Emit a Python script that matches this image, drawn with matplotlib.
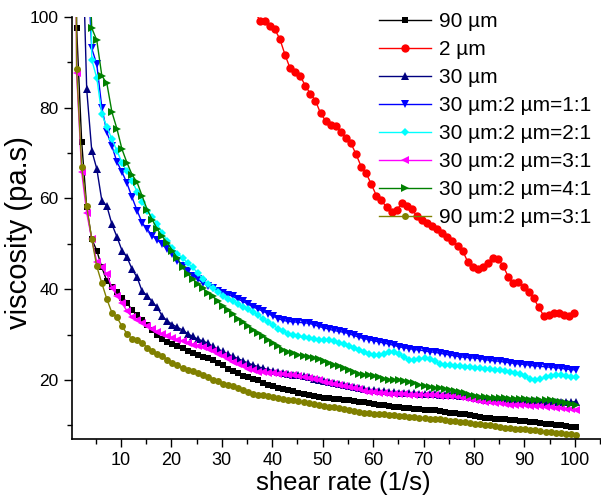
import numpy as np
import matplotlib
matplotlib.use('Agg')
import matplotlib.pyplot as plt

plt.rcParams['font.family'] = ['Liberation Sans', 'DejaVu Sans']

# shear rate grid (1/s), one reading per unit; first point sits just left of the axis
shear_rate = np.linspace(0.2, 100.2, 101)

visc_90um = [300, 97.5, 72.5, 58, 51, 48.5, 44.8, 41.8, 40.5, 39.3,
             38.0, 37.0, 35.4, 34.2, 33.2, 32.2, 30.9, 30.0, 29.1, 28.4,
             27.9, 27.4, 27.0, 26.4, 25.9, 25.5, 25.1, 24.8, 24.3, 23.8,
             23.2, 22.4, 21.9, 21.5, 20.9, 20.6, 20.3, 20.0, 19.4, 18.9,
             18.6, 18.3, 18.0, 17.8, 17.5, 17.2, 17.0, 16.7, 16.5, 16.3,
             16.1, 16.0, 15.9, 15.8, 15.7, 15.6, 15.4, 15.2, 15.1, 14.9,
             14.7, 14.5, 14.4, 14.2, 14.1, 14.0, 13.9, 13.8, 13.6, 13.5,
             13.4, 13.3, 13.3, 13.2, 13.0, 12.8, 12.7, 12.6, 12.4, 12.2,
             12.0, 11.9, 11.7, 11.6, 11.5, 11.4, 11.3, 11.2, 11.1, 11.0,
             10.9, 10.8, 10.7, 10.5, 10.4, 10.3, 10.1, 10.0, 9.9, 9.7,
             9.6]

# 2 um only shows up once it drops below 100
red_rate = np.linspace(36.5, 99.9, 64)
visc_2um = [101.5, 99.1, 99.0, 98.0, 97.2, 95.0, 91.6, 88.6, 87.8, 86.9,
            84.8, 83.0, 81.5, 78.7, 77.1, 76.1, 75.9, 74.5, 73.2, 72.1,
            69.7, 67.0, 65.5, 63.1, 60.6, 59.6, 58.0, 57.0, 57.4, 58.9,
            58.3, 57.7, 56.0, 55.2, 54.6, 54.0, 53.2, 52.4, 51.5, 50.5,
            49.6, 48.5, 46.0, 44.9, 44.4, 44.9, 45.7, 46.8, 46.6, 45.1,
            42.7, 41.3, 41.6, 40.5, 39.4, 38.0, 36.0, 34.1, 34.4, 34.8,
            34.7, 34.4, 34.1, 34.7]

visc_30um = [300, 200, 124, 84, 70.5, 66.5, 59.5, 58.3, 54.3, 51.5,
             48.5, 47.0, 44.4, 42.6, 39.5, 38.6, 37.2, 36.0, 34.0, 33.0,
             32.2, 31.6, 31.0, 30.2, 29.6, 29.0, 28.6, 28.1, 27.4, 26.8,
             26.3, 25.7, 25.2, 24.7, 24.2, 23.7, 23.3, 22.9, 22.6, 22.3,
             22.0, 21.8, 21.6, 21.4, 21.2, 21.0, 20.8, 20.6, 20.3, 20.0,
             19.8, 19.5, 19.3, 19.1, 18.9, 18.7, 18.5, 18.3, 18.1, 17.9,
             17.8, 17.6, 17.5, 17.4, 17.3, 17.2, 17.2, 17.1, 17.1, 17.0,
             17.0, 16.9, 16.9, 16.8, 16.7, 16.7, 16.6, 16.5, 16.4, 16.2,
             16.0, 15.8, 15.7, 15.6, 15.6, 15.5, 15.5, 15.4, 15.4, 15.4,
             15.3, 15.3, 15.3, 15.2, 15.2, 15.2, 15.2, 15.2, 15.2, 15.2,
             15.2]

visc_1to1 = [400, 300, 200, 115, 93, 89.5, 80, 74.5, 71.5, 68,
             65.8, 63.3, 60.2, 57.3, 54.6, 53.2, 51.8, 50.8, 49.9, 48.8,
             47.7, 46.3, 45.1, 44.0, 43.0, 42.2, 41.4, 40.8, 40.2, 39.7,
             39.2, 38.8, 38.4, 37.8, 37.3, 36.7, 36.1, 35.6, 35.1, 34.6,
             34.0, 33.5, 33.1, 32.9, 32.8, 32.7, 32.6, 32.5, 32.2, 31.8,
             31.5, 31.2, 30.9, 30.7, 30.5, 30.2, 29.8, 29.4, 29.1, 28.9,
             28.6, 28.4, 28.1, 27.9, 27.6, 27.3, 27.1, 26.9, 26.7, 26.6,
             26.4, 26.2, 26.1, 25.9, 25.7, 25.5, 25.3, 25.1, 25.0, 24.9,
             24.8, 24.7, 24.5, 24.3, 24.2, 24.1, 23.9, 23.8, 23.6, 23.5,
             23.4, 23.2, 23.1, 23.0, 22.9, 22.8, 22.7, 22.6, 22.4, 22.3,
             22.2]

visc_2to1 = [600, 400, 300, 185, 90.5, 86.5, 78.5, 75.8, 73, 70.5,
             67.8, 66, 63.8, 61.5, 59.3, 57.3, 55.8, 54.3, 52.3, 50.6,
             49.0, 47.8, 46.9, 45.8, 44.8, 43.6, 42.3, 41.1, 40.2, 39.3,
             38.6, 37.9, 37.3, 36.7, 36.1, 35.6, 35.0, 34.3, 33.4, 32.7,
             32.0, 31.3, 30.7, 30.2, 29.9, 29.6, 29.4, 29.2, 29.1, 28.9,
             28.8, 28.7, 28.5, 28.2, 27.9, 27.5, 27.0, 26.5, 26.1, 25.8,
             25.5, 25.5, 25.8, 26.1, 26.2, 25.8, 25.0, 24.5, 24.4, 24.6,
             24.8, 24.6, 24.1, 23.6, 23.3, 23.2, 23.1, 23.0, 22.9, 22.8,
             22.7, 22.6, 22.5, 22.4, 22.3, 22.2, 22.0, 21.8, 21.6, 21.3,
             20.8, 20.3, 20.0, 20.2, 20.6, 20.9, 21.1, 21.0, 20.8, 20.7,
             20.6]

visc_3to1 = [300, 87.5, 65.8, 56.8, 51, 46, 44.8, 43.3, 40.3, 38.6,
             36.9, 35.2, 33.8, 33.2, 32.6, 31.9, 31.2, 30.6, 30.1, 29.7,
             29.3, 28.9, 28.6, 28.2, 27.8, 27.5, 27.2, 26.8, 26.3, 25.7,
             25.2, 24.6, 24.0, 23.5, 23.0, 22.5, 22.1, 21.8, 21.7, 21.6,
             21.5, 21.4, 21.3, 21.1, 21.0, 20.8, 20.6, 20.4, 20.2, 19.9,
             19.6, 19.3, 19.1, 18.9, 18.7, 18.5, 18.3, 18.0, 17.6, 17.4,
             17.3, 17.2, 17.1, 17.0, 17.0, 16.9, 16.9, 16.8, 16.8, 16.7,
             16.7, 16.6, 16.6, 16.5, 16.5, 16.4, 16.4, 16.3, 16.1, 15.9,
             15.6, 15.3, 15.2, 15.1, 15.0, 14.9, 14.8, 14.6, 14.5, 14.4,
             14.4, 14.3, 14.2, 14.2, 14.1, 14.0, 13.9, 13.8, 13.6, 13.5,
             13.4]

visc_4to1 = [400, 300, 200, 125, 97.5, 94.8, 87, 85.3, 79, 75.3,
             70.8, 67.8, 65.2, 63.5, 60.5, 57.5, 55.3, 53.2, 51.6, 50.2,
             48.5, 46.8, 44.8, 43.4, 42.2, 41.2, 40.2, 39.2, 38.4, 37.3,
             36.2, 35.3, 34.5, 33.5, 32.7, 31.9, 31.0, 30.3, 29.6, 28.9,
             28.2, 27.5, 26.7, 26.2, 25.9, 25.6, 25.3, 25.1, 24.9, 24.6,
             24.1, 23.7, 23.4, 23.0, 22.6, 22.2, 21.8, 21.4, 21.2, 21.0,
             20.8, 20.6, 20.3, 20.1, 20.0, 19.9, 19.8, 19.6, 19.3, 18.9,
             18.6, 18.4, 18.3, 18.2, 18.1, 17.9, 17.6, 17.4, 17.1, 16.8,
             16.5, 16.3, 16.2, 16.1, 16.1, 16.0, 16.0, 15.9, 15.9, 15.8,
             15.8, 15.7, 15.7, 15.6, 15.6, 15.5, 15.3, 15.1, 14.9, 14.7,
             14.5]

visc_90_2 = [300, 88.5, 67, 58.3, 51, 45, 41.3, 37.8, 34.8, 33.8,
             31.8, 30.2, 29.0, 28.7, 28.2, 27.1, 26.3, 25.7, 25.2, 24.5,
             23.8, 23.2, 22.6, 22.2, 21.9, 21.6, 21.2, 20.6, 20.1, 19.7,
             19.2, 18.9, 18.6, 18.2, 17.8, 17.4, 17.0, 16.8, 16.6, 16.4,
             16.2, 16.0, 15.8, 15.6, 15.5, 15.3, 15.1, 14.9, 14.7, 14.5,
             14.3, 14.1, 14.0, 13.8, 13.6, 13.4, 13.2, 13.0, 12.8, 12.7,
             12.6, 12.5, 12.4, 12.3, 12.2, 12.1, 12.0, 11.9, 11.8, 11.7,
             11.6, 11.5, 11.4, 11.3, 11.2, 11.0, 10.9, 10.8, 10.7, 10.5,
             10.4, 10.2, 10.1, 10.0, 9.9, 9.7, 9.5, 9.4, 9.3, 9.2,
             9.1, 9.0, 8.9, 8.7, 8.6, 8.5, 8.4, 8.3, 8.1, 8.0,
             7.9]

fig = plt.figure(figsize=(6.01, 4.95), dpi=100)
ax = fig.add_axes([0.1191, 0.1131, 0.8809, 0.8532])

series = [
    (shear_rate, visc_90um, '90 µm', '#000000', 's', 5),
    (red_rate, visc_2um, '2 µm', '#ff0000', 'o', 6),
    (shear_rate, visc_30um, '30 µm', '#000080', '^', 5.5),
    (shear_rate, visc_1to1, '30 µm:2 µm=1:1', '#0000ff', 'v', 5.5),
    (shear_rate, visc_2to1, '30 µm:2 µm=2:1', '#00ffff', 'D', 4.5),
    (shear_rate, visc_3to1, '30 µm:2 µm=3:1', '#ff00ff', '<', 5.5),
    (shear_rate, visc_4to1, '30 µm:2 µm=4:1', '#008000', '>', 5.5),
    (shear_rate, visc_90_2, '90 µm:2 µm=3:1', '#808000', 'o', 5),
]
for x, y, lab, col, mk, ms in series:
    ax.plot(x, y, color=col, marker=mk, markersize=ms, markeredgewidth=0,
            linewidth=1.0, label=lab)

ax.set_xlim(0.2, 105.2)
ax.set_ylim(7, 100)
ax.set_xticks(np.arange(10, 101, 10))
ax.set_xticks(np.arange(5, 106, 10), minor=True)
ax.set_yticks(np.arange(20, 101, 20))
ax.set_yticks(np.arange(10, 100, 20), minor=True)
ax.tick_params(which='major', length=6, width=1, labelsize=13, direction='out')
ax.tick_params(which='minor', length=3.5, width=1, direction='out')
ax.tick_params(axis='y', labelsize=12.5)
ax.spines['top'].set_visible(False)
ax.spines['right'].set_visible(False)
ax.spines['left'].set_linewidth(1.2)
ax.spines['bottom'].set_linewidth(1.2)

ax.set_xlabel('shear rate (1/s)', fontsize=18.5)
ax.set_ylabel('viscosity (pa.s)', fontsize=21)
ax.xaxis.set_label_coords(0.514, -0.075)
ax.yaxis.set_label_coords(-0.072, 0.49)

fig.legend(loc='upper left', bbox_to_anchor=(0.630, 0.975), frameon=False,
           fontsize=15, handlelength=2.5, handletextpad=0.38, labelspacing=0.43,
           borderpad=0, borderaxespad=0)

plt.savefig('out.png', dpi=100)
